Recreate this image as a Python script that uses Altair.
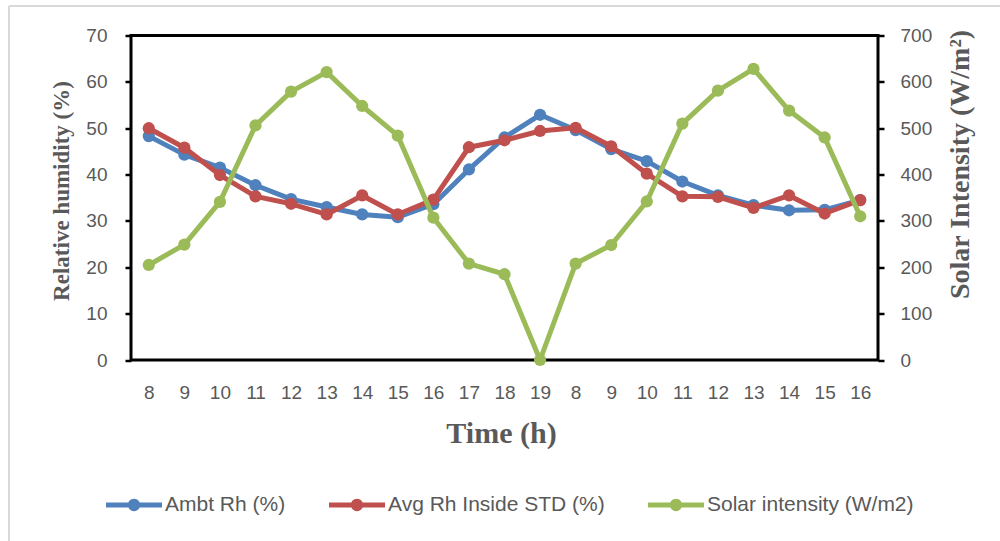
import altair as alt
import pandas as pd

# ---- data ----
hours = [8, 9, 10, 11, 12, 13, 14, 15, 16, 17, 18, 19, 8, 9, 10, 11, 12, 13, 14, 15, 16]
ambt_rh = [48.3, 44.3, 41.5, 37.7, 34.7, 33.0, 31.4, 30.8, 33.6, 41.1, 48.0, 52.9,
           49.6, 45.5, 42.9, 38.5, 35.5, 33.4, 32.3, 32.4, 34.5]
avg_rh_inside = [50.0, 45.8, 39.9, 35.3, 33.7, 31.4, 35.5, 31.4, 34.6, 45.9, 47.4, 49.4,
                 50.1, 46.1, 40.2, 35.3, 35.2, 32.8, 35.5, 31.6, 34.5]
solar_intensity = [205, 249, 341, 506, 579, 621, 548, 484, 307, 208, 185, 0,
                   208, 248, 342, 510, 581, 628, 538, 480, 310]
series_names = ["Ambt Rh (%)", "Avg Rh Inside STD (%)", "Solar intensity (W/m2)"]
series_colors = ["#4F81BD", "#C0504D", "#9BBB59"]
left_ticks = [0, 10, 20, 30, 40, 50, 60, 70]
right_ticks = [0, 100, 200, 300, 400, 500, 600, 700]

rows = []
for name, vals in zip(series_names, [ambt_rh, avg_rh_inside, solar_intensity]):
    for i, (h, v) in enumerate(zip(hours, vals)):
        rows.append({"idx": i, "hour": h, "series": name, "value": v})
df = pd.DataFrame(rows)

label_expr = "[" + ",".join(f"'{h}'" for h in hours) + "][datum.value]"

GRAY = "#595959"
SANS = "Liberation Sans"
SERIF = "Liberation Serif"

x_axis = alt.Axis(labelExpr=label_expr, labelAngle=0, ticks=False, tickSize=0, domain=False,
                  grid=False, labelFont=SANS, labelFontSize=19, labelColor=GRAY,
                  labelBaseline="middle", labelPadding=32,
                  title="Time (h)", titleFont=SERIF, titleFontSize=30, titleFontWeight="bold",
                  titleColor=GRAY, titleBaseline="middle", titleY=73, titleX=370)
x_enc = alt.X("idx:O", scale=alt.Scale(type="point", padding=0.5), axis=x_axis)

left_axis = alt.Axis(orient="left", values=left_ticks, domain=False, grid=False,
                     ticks=True, tickSize=6, tickWidth=2.5, tickColor="black",
                     labelFont=SANS, labelFontSize=19, labelColor=GRAY, labelPadding=18,
                     title="Relative humidity (%)", titleFont=SERIF, titleFontSize=23,
                     titleFontWeight="bold", titleColor=GRAY, titleAngle=270,
                     titleAlign="center", titleBaseline="middle", titleX=-70, titleY=155)
right_axis = alt.Axis(orient="right", values=right_ticks, domain=False, grid=False,
                      ticks=True, tickSize=6, tickWidth=2.5, tickColor="black",
                      labelFont=SANS, labelFontSize=19, labelColor=GRAY, labelPadding=16,
                      title="Solar Intensity (W/m²)", titleFont=SERIF, titleFontSize=28,
                      titleFontWeight="bold", titleColor=GRAY, titleAngle=270,
                      titleAlign="center", titleBaseline="middle", titleX=82, titleY=128.5)

y_left = alt.Y("value:Q", scale=alt.Scale(domain=[0, 70], nice=False), axis=left_axis)
y_right = alt.Y("value:Q", scale=alt.Scale(domain=[0, 700], nice=False), axis=right_axis)

color_scale = alt.Scale(domain=series_names, range=series_colors)
# legend symbol: a short thick line with a dot in the middle (both drawn clockwise)
sym_path = ("M-1,-0.09L1,-0.09L1,0.09L-1,0.09Z"
            "M-0.22,0A0.22,0.22,0,1,1,0.22,0A0.22,0.22,0,1,1,-0.22,0Z")


def make_legend():
    return alt.Legend(orient="none", legendX=-25, legendY=441.5, direction="horizontal",
                      title=None, symbolType=sym_path, symbolSize=3136, symbolStrokeWidth=0,
                      labelFont=SANS, labelFontSize=21, labelColor=GRAY, labelOffset=3,
                      columnPadding=43, padding=0, rowPadding=0, labelLimit=400)


def series_layers(name, y_enc):
    base = alt.Chart(df).transform_filter(alt.datum.series == name)
    line = base.mark_line(strokeWidth=5, strokeJoin="round", strokeCap="round").encode(
        x=x_enc, y=y_enc, color=alt.Color("series:N", scale=color_scale, legend=make_legend()))
    pts = base.mark_circle(size=150, opacity=1).encode(
        x=x_enc, y=y_enc, color=alt.Color("series:N", scale=color_scale, legend=make_legend()))
    return [line, pts]


left = alt.layer(*series_layers(series_names[0], y_left), *series_layers(series_names[1], y_left))
right = alt.layer(*series_layers(series_names[2], y_right))

frame_data = alt.Data(values=[{"k": 0}])
border_left = alt.Chart(frame_data).mark_rule(color="#d9d9d9", strokeWidth=2).encode(
    x=alt.value(-122), y=alt.value(-29.5), y2=alt.value(510))
border_top = alt.Chart(frame_data).mark_rule(color="#d9d9d9", strokeWidth=2).encode(
    x=alt.value(-122), x2=alt.value(870), y=alt.value(-29.5))

chart = alt.layer(border_left, border_top, left, right).resolve_scale(
    y="independent"
).properties(
    width=747, height=324.5, autosize="none",
    padding={"left": 131, "top": 35.5, "right": 122, "bottom": 181},
    background="white",
).configure_view(stroke="black", strokeWidth=3)

chart.save("out.html", embed_options={"renderer": "svg", "actions": False})
